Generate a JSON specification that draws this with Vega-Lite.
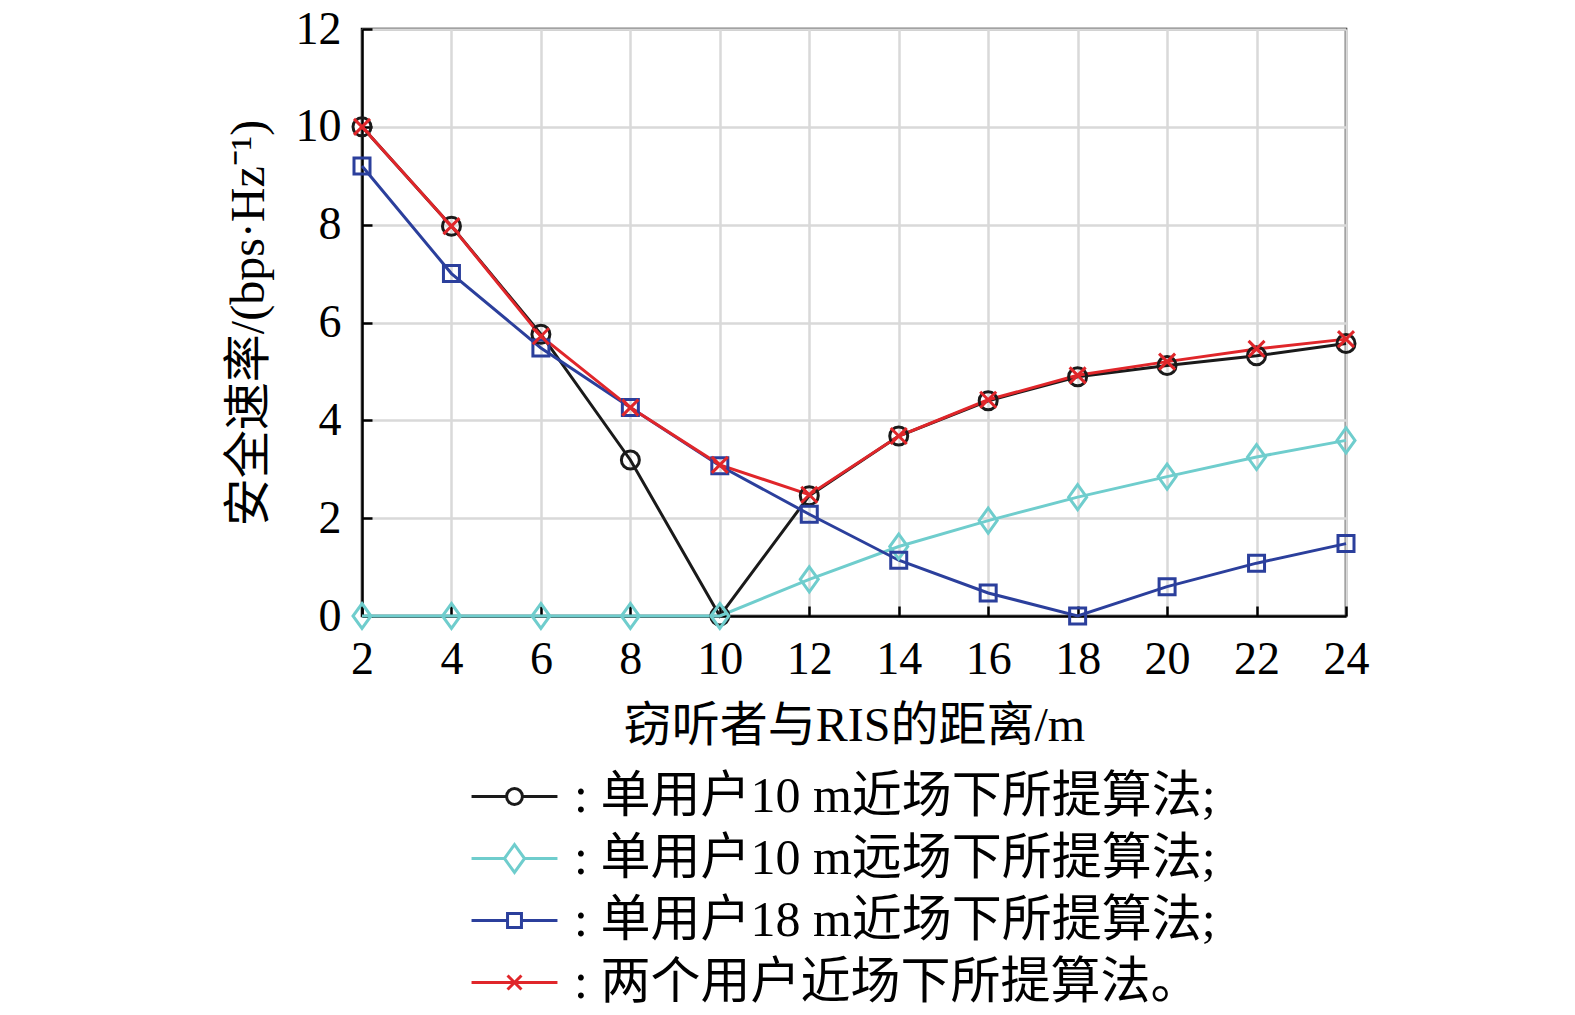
{
  "$schema": "https://vega.github.io/schema/vega-lite/v6.json",
  "width": 984,
  "height": 587,
  "autosize": "none",
  "padding": {"left": 362, "top": 29, "right": 229, "bottom": 399},
  "background": "white",
  "data": {
    "values": [
      {"x": 2, "y": 10.0, "s": "单用户10 m近场下所提算法;"},
      {"x": 4, "y": 7.97, "s": "单用户10 m近场下所提算法;"},
      {"x": 6, "y": 5.76, "s": "单用户10 m近场下所提算法;"},
      {"x": 8, "y": 3.19, "s": "单用户10 m近场下所提算法;"},
      {"x": 10, "y": 0, "s": "单用户10 m近场下所提算法;"},
      {"x": 12, "y": 2.46, "s": "单用户10 m近场下所提算法;"},
      {"x": 14, "y": 3.68, "s": "单用户10 m近场下所提算法;"},
      {"x": 16, "y": 4.4, "s": "单用户10 m近场下所提算法;"},
      {"x": 18, "y": 4.89, "s": "单用户10 m近场下所提算法;"},
      {"x": 20, "y": 5.12, "s": "单用户10 m近场下所提算法;"},
      {"x": 22, "y": 5.32, "s": "单用户10 m近场下所提算法;"},
      {"x": 24, "y": 5.57, "s": "单用户10 m近场下所提算法;"},
      {"x": 2, "y": 0, "s": "单用户10 m远场下所提算法;"},
      {"x": 4, "y": 0, "s": "单用户10 m远场下所提算法;"},
      {"x": 6, "y": 0, "s": "单用户10 m远场下所提算法;"},
      {"x": 8, "y": 0, "s": "单用户10 m远场下所提算法;"},
      {"x": 10, "y": 0, "s": "单用户10 m远场下所提算法;"},
      {"x": 12, "y": 0.75, "s": "单用户10 m远场下所提算法;"},
      {"x": 14, "y": 1.42, "s": "单用户10 m远场下所提算法;"},
      {"x": 16, "y": 1.95, "s": "单用户10 m远场下所提算法;"},
      {"x": 18, "y": 2.43, "s": "单用户10 m远场下所提算法;"},
      {"x": 20, "y": 2.85, "s": "单用户10 m远场下所提算法;"},
      {"x": 22, "y": 3.25, "s": "单用户10 m远场下所提算法;"},
      {"x": 24, "y": 3.59, "s": "单用户10 m远场下所提算法;"},
      {"x": 2, "y": 9.2, "s": "单用户18 m近场下所提算法;"},
      {"x": 4, "y": 7.0, "s": "单用户18 m近场下所提算法;"},
      {"x": 6, "y": 5.48, "s": "单用户18 m近场下所提算法;"},
      {"x": 8, "y": 4.26, "s": "单用户18 m近场下所提算法;"},
      {"x": 10, "y": 3.07, "s": "单用户18 m近场下所提算法;"},
      {"x": 12, "y": 2.08, "s": "单用户18 m近场下所提算法;"},
      {"x": 14, "y": 1.14, "s": "单用户18 m近场下所提算法;"},
      {"x": 16, "y": 0.47, "s": "单用户18 m近场下所提算法;"},
      {"x": 18, "y": 0, "s": "单用户18 m近场下所提算法;"},
      {"x": 20, "y": 0.6, "s": "单用户18 m近场下所提算法;"},
      {"x": 22, "y": 1.08, "s": "单用户18 m近场下所提算法;"},
      {"x": 24, "y": 1.48, "s": "单用户18 m近场下所提算法;"},
      {"x": 2, "y": 10.0, "s": "两个用户近场下所提算法。"},
      {"x": 4, "y": 7.97, "s": "两个用户近场下所提算法。"},
      {"x": 6, "y": 5.72, "s": "两个用户近场下所提算法。"},
      {"x": 8, "y": 4.26, "s": "两个用户近场下所提算法。"},
      {"x": 10, "y": 3.09, "s": "两个用户近场下所提算法。"},
      {"x": 12, "y": 2.48, "s": "两个用户近场下所提算法。"},
      {"x": 14, "y": 3.68, "s": "两个用户近场下所提算法。"},
      {"x": 16, "y": 4.42, "s": "两个用户近场下所提算法。"},
      {"x": 18, "y": 4.92, "s": "两个用户近场下所提算法。"},
      {"x": 20, "y": 5.2, "s": "两个用户近场下所提算法。"},
      {"x": 22, "y": 5.46, "s": "两个用户近场下所提算法。"},
      {"x": 24, "y": 5.66, "s": "两个用户近场下所提算法。"}
    ]
  },
  "encoding": {
    "x": {
      "field": "x",
      "type": "quantitative",
      "scale": {"domain": [2, 24], "nice": false},
      "axis": {
        "values": [2, 4, 6, 8, 10, 12, 14, 16, 18, 20, 22, 24],
        "title": "窃听者与RIS的距离/m",
        "labelPadding": 31,
        "titlePadding": 20
      }
    },
    "y": {
      "field": "y",
      "type": "quantitative",
      "scale": {"domain": [0, 12], "nice": false},
      "axis": {
        "values": [0, 2, 4, 6, 8, 10, 12],
        "title": "安全速率/(bps·Hz⁻¹)",
        "labelPadding": 31,
        "titlePadding": 22
      }
    },
    "color": {
      "field": "s",
      "type": "nominal",
      "scale": {
        "domain": ["单用户10 m近场下所提算法;", "单用户10 m远场下所提算法;", "单用户18 m近场下所提算法;", "两个用户近场下所提算法。"],
        "range": ["#1a1a1a", "#6fcdcd", "#2b3f9c", "#e0262a"]
      },
      "legend": null
    }
  },
  "layer": [
    {
      "mark": {"type": "line", "strokeWidth": 3}
    },
    {
      "mark": {"type": "point", "filled": false, "strokeWidth": 3, "size": 400, "opacity": 1},
      "encoding": {
        "shape": {
          "field": "s",
          "type": "nominal",
          "scale": {
            "domain": ["单用户10 m近场下所提算法;", "单用户10 m远场下所提算法;", "单用户18 m近场下所提算法;", "两个用户近场下所提算法。"],
            "range": [
              "M-0.9,0A0.9,0.9 0 1,0 0.9,0A0.9,0.9 0 1,0 -0.9,0Z",
              "M0,-1.25L0.9,0L0,1.25L-0.9,0Z",
              "M-0.8,-0.8H0.8V0.8H-0.8Z",
              "M-0.8,-0.8L0.8,0.8M0.8,-0.8L-0.8,0.8"
            ]
          },
          "legend": null
        }
      }
    },
    {
      "transform": [{"filter": "false"}],
      "mark": {"type": "point", "filled": false, "strokeWidth": 3, "opacity": 1},
      "encoding": {
        "color": {
          "field": "s",
          "type": "nominal",
          "scale": {
            "domain": ["单用户10 m近场下所提算法;", "单用户10 m远场下所提算法;", "单用户18 m近场下所提算法;", "两个用户近场下所提算法。"],
            "range": ["#1a1a1a", "#6fcdcd", "#2b3f9c", "#e0262a"]
          },
          "legend": {"labelExpr": "': ' + datum.label"}
        },
        "shape": {
          "field": "s",
          "type": "nominal",
          "scale": {
            "domain": ["单用户10 m近场下所提算法;", "单用户10 m远场下所提算法;", "单用户18 m近场下所提算法;", "两个用户近场下所提算法。"],
            "range": [
              "M-1.79,0H-0.33M0.33,0H1.79M-0.33,0A0.33,0.33 0 1,0 0.33,0A0.33,0.33 0 1,0 -0.33,0Z",
              "M-1.79,0H-0.42M0.42,0H1.79M0,-0.58L0.42,0L0,0.58L-0.42,0Z",
              "M-1.79,0H-0.29M0.29,0H1.79M-0.29,-0.29H0.29V0.29H-0.29Z",
              "M-1.79,0H1.79M-0.29,-0.29L0.29,0.29M0.29,-0.29L-0.29,0.29"
            ]
          },
          "legend": {"labelExpr": "': ' + datum.label"}
        }
      }
    }
  ],
  "resolve": {
    "scale": {"color": "independent", "shape": "independent"},
    "legend": {"color": "independent", "shape": "independent"}
  },
  "config": {
    "view": {"stroke": "black", "strokeWidth": 2.5},
    "font": "Liberation Serif, Noto Sans CJK SC",
    "legend": {
      "orient": "none",
      "legendX": 127,
      "legendY": 742,
      "title": null,
      "padding": 0,
      "symbolSize": 2304,
      "symbolStrokeWidth": 3,
      "symbolFillColor": "transparent",
      "labelFont": "Liberation Serif, Noto Sans CJK SC",
      "labelFontSize": 50,
      "labelColor": "black",
      "labelLimit": 1000,
      "labelOffset": 34,
      "rowPadding": 11
    },
    "axis": {
      "domainColor": "black",
      "domainWidth": 2.5,
      "tickColor": "black",
      "tickWidth": 2.5,
      "tickSize": -10,
      "labelFlush": false,
      "gridColor": "#d9d9d9",
      "gridWidth": 2.5,
      "gridOpacity": 1,
      "labelFont": "Liberation Serif, Noto Sans CJK SC",
      "labelFontSize": 46,
      "labelColor": "black",
      "titleFont": "Liberation Serif, Noto Sans CJK SC",
      "titleFontSize": 48,
      "titleFontWeight": "normal",
      "titleColor": "black"
    }
  }
}
